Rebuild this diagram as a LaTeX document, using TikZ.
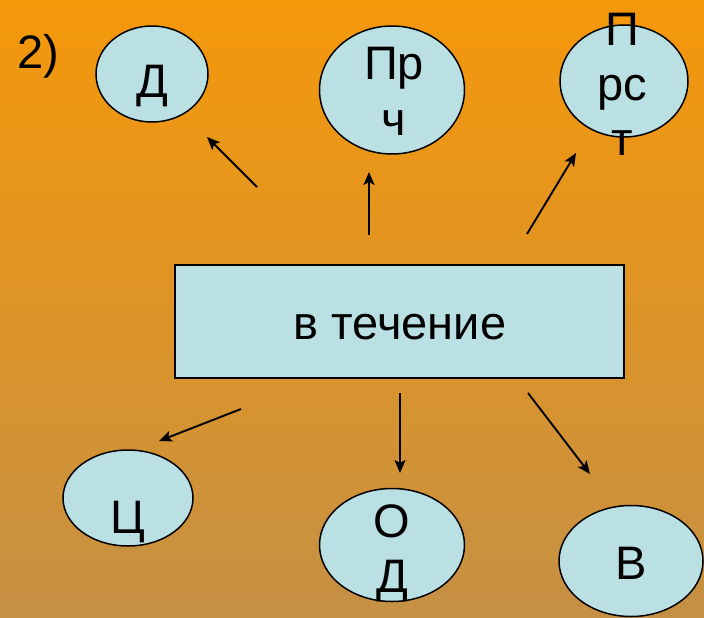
\documentclass[tikz,border=0pt]{standalone}
\usepackage{fontspec}
\setmainfont{Liberation Sans}
\usetikzlibrary{shapes.geometric,arrows.meta}
\definecolor{bgtop}{RGB}{245,152,10}
\definecolor{bgbot}{RGB}{197,144,68}
\definecolor{boxfill}{RGB}{187,224,227}
\tikzset{
  bubble/.style={ellipse,draw=black,line width=1.5pt,fill=boxfill,inner sep=0pt},
  txt/.style={font=\fontsize{47}{55}\selectfont,inner sep=0pt,align=center,anchor=base},
  arr/.style={line width=1.9pt,-{Stealth[length=13pt,width=11pt,inset=3pt]}}
}
\begin{document}
\begin{tikzpicture}[x=1pt,y=-1pt]
\shade[top color=bgtop,bottom color=bgbot] (0,0) rectangle (704,618);
\useasboundingbox (0,0) rectangle (704,618);

\node[txt,anchor=base west] (num) at (17,68) {2)};

\node[bubble,minimum width=112pt,minimum height=96pt] (d) at (152,74) {};
\node[txt] (dt) at (152,97) {Д};

\node[bubble,minimum width=145pt,minimum height=128pt] (pr) at (392,90) {};
\node[txt] (prt) at (394,135) {Пр\\ч};

\node[bubble,minimum width=128pt,minimum height=112pt] (prst) at (624,81) {};
\node[txt] (prstt) at (622,155) {П\\рс\\т};

\node[draw=black,line width=1.5pt,fill=boxfill,minimum width=449pt,minimum height=113pt,inner sep=0pt] (main) at (399.5,321.5) {};
\node[txt] (maint) at (400,339) {в течение};

\node[bubble,minimum width=130pt,minimum height=96pt] (c) at (128,498) {};
\node[txt] (ct) at (128,533) {Ц};

\node[bubble,minimum width=145pt,minimum height=113pt] (od) at (392,545) {};
\node[txt] (odt) at (392,592) {О\\Д};

\node[bubble,minimum width=144pt,minimum height=111pt] (v) at (631,561) {};
\node[txt] (vt) at (631,579) {В};

\coordinate (a1s) at (257,187); \coordinate (a1e) at (207,137);
\coordinate (a2s) at (369,235); \coordinate (a2e) at (369,172);
\coordinate (a3s) at (527,234); \coordinate (a3e) at (576,153);
\coordinate (a4s) at (241,409); \coordinate (a4e) at (159,441);
\coordinate (a5s) at (400,393); \coordinate (a5e) at (400,473);
\coordinate (a6s) at (528,393); \coordinate (a6e) at (590,474);

\draw[arr] (a1s) -- (a1e);
\draw[arr] (a2s) -- (a2e);
\draw[arr] (a3s) -- (a3e);
\draw[arr] (a4s) -- (a4e);
\draw[arr] (a5s) -- (a5e);
\draw[arr] (a6s) -- (a6e);
\end{tikzpicture}
\end{document}
